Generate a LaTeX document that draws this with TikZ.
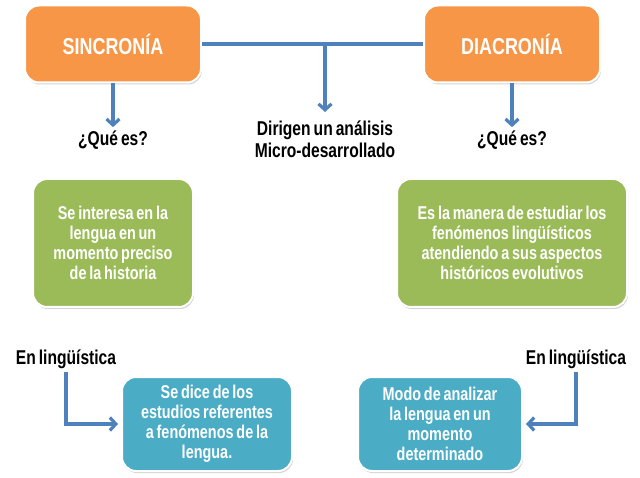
\documentclass[tikz,border=0pt]{standalone}
\usepackage{fontspec}
\setmainfont{Liberation Sans}[FakeStretch=0.78, WordSpace=0.7]
\usetikzlibrary{shapes, positioning, arrows, arrows.meta, shadows}
\definecolor{boxorange}{HTML}{F79646}
\definecolor{boxgreen}{HTML}{9BBB59}
\definecolor{boxblue}{HTML}{4BACC6}
\definecolor{linkblue}{HTML}{4F81BD}
\tikzset{
x=1pt, y=-1pt, % one unit is one pixel of the slide
>={Straight Barb[length=6pt, width=13pt]}, % open arrow heads
node distance=96pt, % from a box down to its question
}
\tikzstyle{headbox} = [rectangle, draw=white, line width=2pt, fill=boxorange,
    rounded corners=14pt, minimum width=176pt, minimum height=77pt,
    text=white, font=\bfseries\fontsize{23}{26}\selectfont,
    drop shadow={shadow xshift=1pt, shadow yshift=-2pt, opacity=0.35}]
\tikzstyle{infobox} = [headbox, fill=boxgreen, minimum height=128pt,
    align=center, font=\bfseries\fontsize{18.5}{20}\selectfont]
\tikzstyle{notebox} = [infobox, fill=boxblue, minimum height=94pt]
\tikzstyle{question} = [align=center, font=\bfseries\fontsize{20}{22}\selectfont]
\tikzstyle{link} = [draw, linkblue, line width=3.2pt]
\tikzstyle{line} = [link, ->]

\begin{document}
\begin{tikzpicture}
\useasboundingbox (0,0) rectangle (640,478);
\node [headbox] at (113,44) (sinc) {SINCRONÍA};
\node [headbox, right of=sinc, node distance=399pt] (diac) {DIACRONÍA};
\node [question, below of=sinc] (qsinc) {¿Qué es?};
\node [question, below of=diac] (qdiac) {¿Qué es?};
\node [question] at (325,139) (dirig) {Dirigen un análisis\\Micro-desarrollado};
\node [infobox, below of=qsinc, node distance=103pt, minimum width=160pt] (gsinc)
    {Se interesa en la\\lengua en un\\momento preciso\\de la historia};
\node [infobox, below of=qdiac, node distance=103pt, minimum width=230pt] (gdiac)
    {Es la manera de estudiar los\\fenómenos lingüísticos\\atendiendo a sus aspectos\\históricos evolutivos};
\node [question] at (66,359) (lsinc) {En lingüística};
\node [question] at (576,359) (ldiac) {En lingüística};
\node [notebox, minimum width=170pt] at (207,424) (bsinc)
    {Se dice de los\\estudios referentes\\a fenómenos de la\\lengua.};
\node [notebox, minimum width=164pt] at (440,424) (bdiac)
    {Modo de analizar\\la lengua en un\\momento\\determinado};

  \path [link] (sinc.east) -- (diac.west);
  \path [line, shorten >=5pt] (dirig.north |- sinc.east) -- (dirig.north);
  \path [line] (sinc) -- (qsinc);
  \path [line] (diac) -- (qdiac);
  \path [line, shorten >=3pt] (lsinc.south) |- (bsinc.west);
  \path [line, shorten >=3pt] (ldiac.south) |- (bdiac.east);

\end{tikzpicture}
\end{document}
